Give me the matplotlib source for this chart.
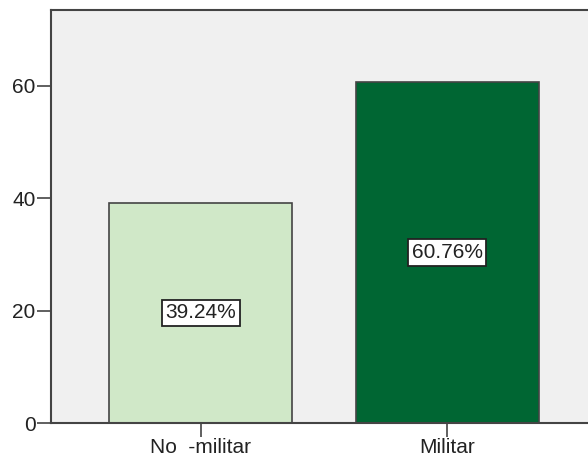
import matplotlib
matplotlib.use("Agg")
import matplotlib.pyplot as plt

# data
categories = ['No  -militar', 'Militar']
percent = [39.24, 60.76]
bar_colors = ['#d0e8c8', '#006633']
yticks = [0, 20, 40, 60]

plt.rcParams['font.family'] = ['Liberation Sans', 'DejaVu Sans']

fig = plt.figure(figsize=(5.88, 4.61), dpi=100)
# axes runs past the right edge of the picture, like the original crop
ax = fig.add_axes([51/588, 38/461, 546/588, 413/461])
ax.set_facecolor('#f0f0f0')

x = list(range(len(categories)))
bars = ax.bar(x, percent, width=0.742, color=bar_colors,
              edgecolor='#444444', linewidth=1.2, zorder=2)

# value labels in the middle of each bar
for b, v in zip(bars, percent):
    ax.text(b.get_x() + b.get_width()/2, v/2, f'{v:.2f}%',
            ha='center', va='center', fontsize=15, color='#222222',
            bbox=dict(boxstyle='square,pad=0.18', fc='white', ec='#222222', lw=1.3),
            zorder=3)

ax.set_xlim(-0.608, 1.608)
ax.set_ylim(0, 73.5)
ax.set_xticks(x)
ax.set_xticklabels(categories)
ax.set_yticks(yticks)

for s in ['left', 'bottom', 'top', 'right']:
    ax.spines[s].set_color('#444444')
    ax.spines[s].set_linewidth(1.5)
ax.tick_params(axis='both', length=10, width=1.2, color='#444444',
               labelsize=15, labelcolor='#222222', pad=1)

fig.savefig('out.png', dpi=100)
